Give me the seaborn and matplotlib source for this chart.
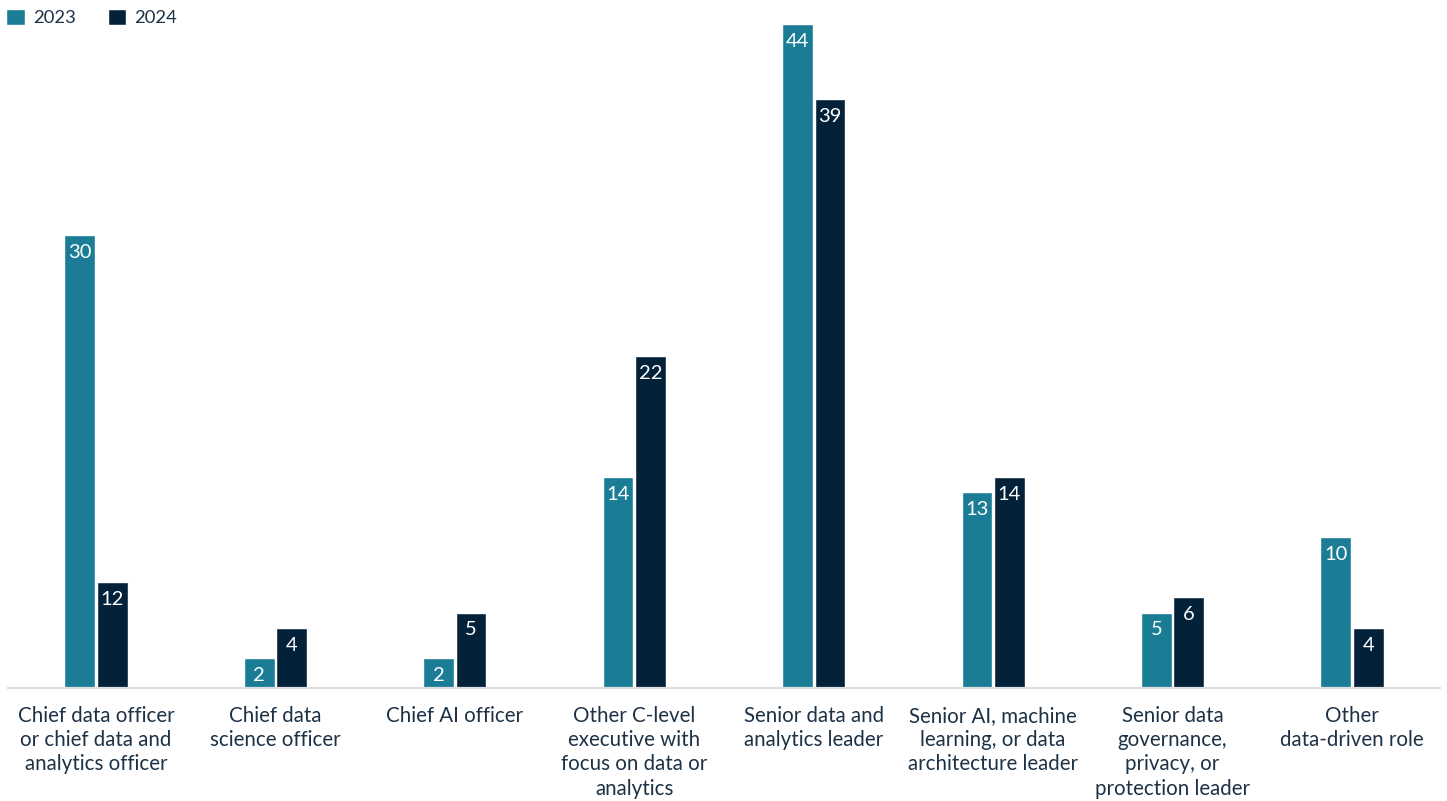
import numpy as np
import pandas as pd
import matplotlib
matplotlib.use("Agg")
import matplotlib.pyplot as plt
import seaborn as sns
from matplotlib.patches import Patch

# data
categories = [
    "Chief data officer\nor chief data and\nanalytics officer",
    "Chief data\nscience officer",
    "Chief AI officer",
    "Other C-level\nexecutive with\nfocus on data or\nanalytics",
    "Senior data and\nanalytics leader",
    "Senior AI, machine\nlearning, or data\narchitecture leader",
    "Senior data\ngovernance,\nprivacy, or\nprotection leader",
    "Other\ndata-driven role",
]
values_2023 = [30, 2, 2, 14, 44, 13, 5, 10]
values_2024 = [7, 4, 5, 22, 39, 14, 6, 4]   # first bar is drawn shorter than its label in the source
labels_2023 = ["30", "2", "2", "14", "44", "13", "5", "10"]
labels_2024 = ["12", "4", "5", "22", "39", "14", "6", "4"]
years = ["2023", "2024"]

TEAL = "#1a7d95"
NAVY = "#03223a"
TEXT = "#1d3246"

df = pd.DataFrame({
    "role": categories * 2,
    "value": values_2023 + values_2024,
    "year": [years[0]] * len(categories) + [years[1]] * len(categories),
})

sns.set_theme(style="white")
plt.rcParams["font.family"] = ["Lato", "DejaVu Sans"]

fig = plt.figure(figsize=(14.47, 8.01), dpi=100)
ax = fig.add_axes([8 / 1447, 113 / 801, 1432 / 1447, 688 / 801])

sns.barplot(data=df, x="role", y="value", hue="year", order=categories,
            hue_order=years, palette=[TEAL, NAVY], width=0.362, gap=0.05,
            saturation=1, legend=False, ax=ax)

# value labels inside the bar tops
for container, labels in zip(ax.containers, [labels_2023, labels_2024]):
    for bar, lab in zip(container, labels):
        ax.annotate(lab, xy=(bar.get_x() + bar.get_width() / 2, bar.get_height()),
                    xytext=(0, -12.5), textcoords="offset points",
                    ha="center", va="center", color="white", fontsize=14.5)

ax.set_xlim(-0.49, 7.49)
ax.set_ylim(0, 688 / 15.09)
ax.set_xlabel("")
ax.set_ylabel("")
ax.set_yticks([])
for s in ["top", "right", "left"]:
    ax.spines[s].set_visible(False)
ax.spines["bottom"].set_color("#dedede")
ax.spines["bottom"].set_linewidth(1.6)
ax.tick_params(axis="x", length=0, pad=13, labelsize=14.8, labelcolor=TEXT)
for t in ax.get_xticklabels():
    t.set_linespacing(1.26)
    t.set_verticalalignment("top")

handles = [Patch(facecolor=TEAL, label=years[0]), Patch(facecolor=NAVY, label=years[1])]
leg = fig.legend(handles=handles, loc="upper left", bbox_to_anchor=(-0.007, 1.01),
                 ncol=2, frameon=False, fontsize=13.3, handlelength=1.0,
                 handleheight=1.0, handletextpad=0.45, columnspacing=1.7)
for t in leg.get_texts():
    t.set_color(TEXT)

fig.savefig("out.png", dpi=100)
